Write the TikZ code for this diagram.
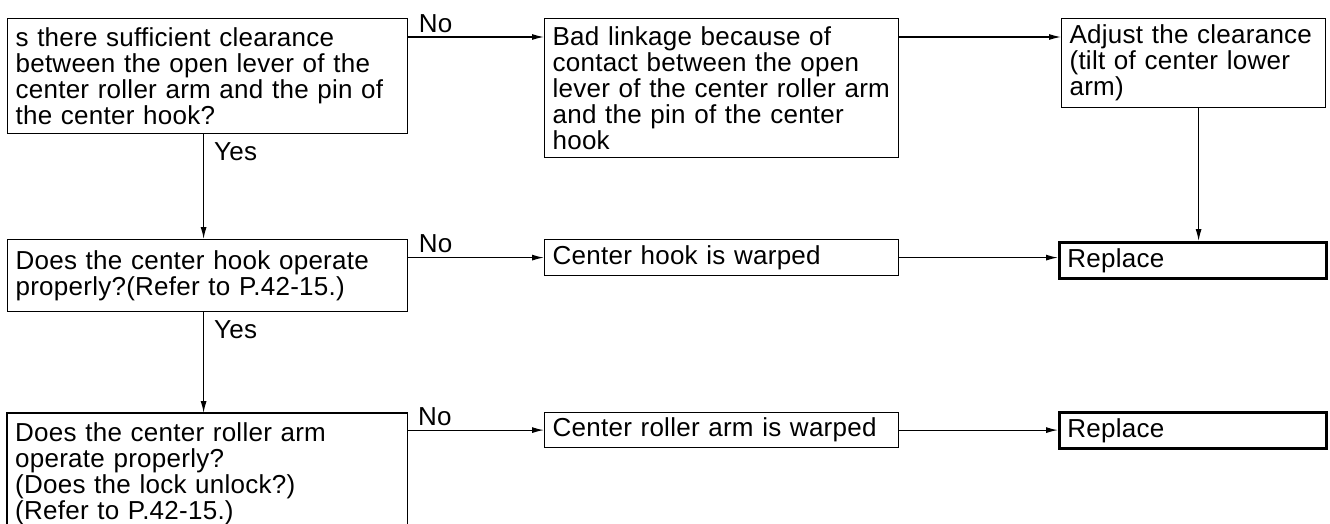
\documentclass[tikz,border=0pt]{standalone}
\usepackage{fontspec}
\setmainfont[LetterSpace=1]{Liberation Sans}
\usetikzlibrary{arrows.meta}
\begin{document}
\begin{tikzpicture}[x=1pt,y=-1pt,
  txt/.style={font=\fontsize{26}{26}\selectfont},
  box/.style={txt, draw, line width=1.2pt, rectangle, anchor=north west,
    inner xsep=8pt, inner ysep=0pt, align=left},
  openbox/.style={txt, rectangle, anchor=north west,
    inner xsep=8pt, inner ysep=0pt, align=left},
  endbox/.style={box, line width=2.8pt},
  conn/.style={line width=1.2pt},
  arr/.style={conn, -{Latex[length=12pt,width=6pt]}},
  lbl/.style={txt, inner sep=0pt}]
\useasboundingbox (0,0) rectangle (1330,524);

% boxes
\node[box, minimum width=400pt, minimum height=115pt, text width=384pt] (q1) at (7,18)
  {s there sufficient clearance\\between the open lever of the\\center roller arm and the pin of\\the center hook?};
\node[box, minimum width=354pt, minimum height=139pt, text width=338pt] (b) at (544,18)
  {Bad linkage because of\\contact between the open\\lever of the center roller arm\\and the pin of the center\\hook};
\node[box, minimum width=264pt, minimum height=89pt, text width=248pt] (c) at (1061,18)
  {Adjust the clearance\\(tilt of center lower\\arm)};

\node[box, minimum width=400pt, minimum height=72pt, text width=384pt] (q2) at (7,239)
  {Does the center hook operate\\properly?(Refer to P.42-15.)};
\node[box, minimum width=354pt, minimum height=36pt, text width=338pt] (d) at (544,239)
  {Center hook is warped};
\node[endbox, minimum width=267pt, minimum height=36pt, text width=251pt] (r1) at (1058,241)
  {Replace};

\node[openbox, minimum width=400pt, minimum height=121pt, text width=384pt] (q3) at (7,413)
  {Does the center roller arm\\operate properly?\\(Does the lock unlock?)\\(Refer to P.42-15.)};
\draw[conn] (q3.south west) -- (q3.north west) -- (q3.north east) -- (q3.south east);
\node[box, minimum width=354pt, minimum height=35pt, text width=338pt] (e) at (544,412)
  {Center roller arm is warped};
\node[endbox, minimum width=267pt, minimum height=36pt, text width=251pt] (r2) at (1058,411)
  {Replace};

% connectors row 1
\coordinate (q1o) at ([yshift=-19pt]q1.north east);
\coordinate (bo) at ([yshift=-19pt]b.north east);
\draw[arr] (q1o) -- node[lbl, pos=0, anchor=south west, xshift=10pt, yshift=4pt] {No} (q1o -| b.west);
\draw[arr] (bo) -- (bo -| c.west);
\coordinate (cs) at ([xshift=5pt]c.south);
\draw[arr] (cs) -- (cs |- r1.north);

% Yes 1
\coordinate (q1s) at ([xshift=-4pt]q1.south);
\draw[arr] (q1s) -- node[lbl, pos=0, anchor=north west, xshift=10pt, yshift=-8pt] {Yes} (q1s |- q2.north);

% row 2
\coordinate (q2o) at (d.west -| q2.east);
\draw[arr] (q2o) -- node[lbl, pos=0, anchor=south west, xshift=10pt, yshift=4pt] {No} (d.west);
\draw[arr] (d.east) -- (d.east -| r1.west);

% Yes 2
\coordinate (q2s) at ([xshift=-4pt]q2.south);
\draw[arr] (q2s) -- node[lbl, pos=0, anchor=north west, xshift=10pt, yshift=-8pt] {Yes} (q2s |- q3.north);

% row 3
\coordinate (q3o) at (e.west -| q3.east);
\draw[arr] (q3o) -- node[lbl, pos=0, anchor=south west, xshift=10pt, yshift=4pt] {No} (e.west);
\draw[arr] (e.east) -- (e.east -| r2.west);
\end{tikzpicture}
\end{document}
